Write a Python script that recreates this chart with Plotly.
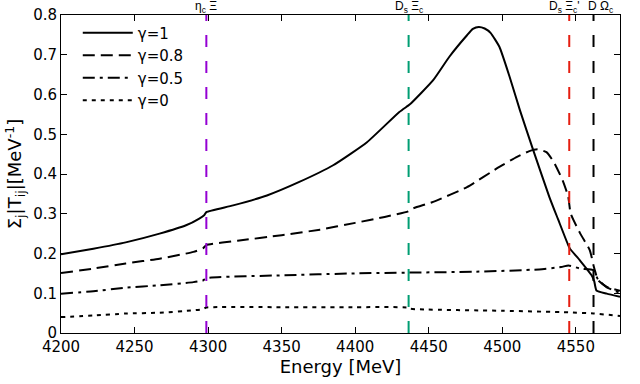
import plotly.graph_objects as go

# gamma = 1
e_g1 = [4200, 4222, 4244, 4267, 4285, 4294, 4297.5, 4298.8, 4317, 4340, 4362, 4385, 4408, 4430, 4436, 4438,
        4453, 4464, 4476, 4480, 4484, 4488, 4492, 4498, 4505, 4512, 4521, 4532, 4538, 4544.8, 4546, 4552.7,
        4560.7, 4562.5, 4564, 4571, 4580]
t_g1 = [0.198, 0.212, 0.228, 0.250, 0.271, 0.288, 0.297, 0.304, 0.321, 0.346, 0.380, 0.422, 0.480, 0.556, 0.572, 0.578,
        0.636, 0.695, 0.749, 0.765, 0.770, 0.766, 0.755, 0.720, 0.644, 0.560, 0.460, 0.342, 0.285, 0.221, 0.212, 0.183,
        0.145, 0.130, 0.107, 0.099, 0.091]

# gamma = 0.8
e_g08 = [4200, 4222, 4244, 4267, 4290, 4296.5, 4298.8, 4320, 4350, 4376, 4400, 4420, 4436, 4439, 4453, 4476,
         4498, 4510, 4518, 4524, 4530, 4535, 4541, 4544.8, 4546.5, 4553, 4559.5, 4562, 4563.5, 4565, 4571, 4580]
t_g08 = [0.151, 0.162, 0.175, 0.187, 0.204, 0.213, 0.221, 0.232, 0.246, 0.260, 0.277, 0.292, 0.306, 0.313, 0.330, 0.367,
         0.418, 0.443, 0.457, 0.462, 0.455, 0.430, 0.384, 0.343, 0.300, 0.250, 0.208, 0.170, 0.150, 0.133, 0.116, 0.106]

# gamma = 0.5
e_g05 = [4200, 4222, 4244, 4267, 4290, 4296.5, 4298.8, 4350, 4400, 4436, 4480, 4525, 4540, 4545, 4553, 4562,
         4565, 4571, 4580]
t_g05 = [0.099, 0.105, 0.114, 0.120, 0.128, 0.132, 0.138, 0.145, 0.150, 0.152, 0.154, 0.160, 0.166, 0.170, 0.162, 0.158,
         0.135, 0.115, 0.101]

# gamma = 0
e_g0 = [4200, 4222, 4244, 4267, 4290, 4296.5, 4298.8, 4350, 4400, 4436, 4437.5, 4500, 4545, 4562, 4580]
t_g0 = [0.040, 0.044, 0.049, 0.051, 0.057, 0.060, 0.064, 0.065, 0.065, 0.064, 0.061, 0.056, 0.052, 0.049, 0.043]

# thresholds
thr_e = [4298.8, 4436.3, 4545.5, 4562.0]
thr_lbl = ["η<sub>c</sub> Ξ", "D<sub>s</sub> Ξ<sub>c</sub>", "D<sub>s</sub> Ξ<sub>c</sub>'", "D Ω<sub>c</sub>"]
thr_col = ["#9400d3", "#009e73", "#e51e10", "#000000"]
thr_shift = [0, 0, -5, 7]

series = [
    ("γ=1", e_g1, t_g1, "solid"),
    ("γ=0.8", e_g08, t_g08, "12px,6px"),
    ("γ=0.5", e_g05, t_g05, "12px,5px,3px,5px"),
    ("γ=0", e_g0, t_g0, "4px,5px"),
]

fig = go.Figure()
for name, x, y, dash in series:
    fig.add_trace(go.Scatter(x=x, y=y, mode="lines", name=name,
                             line=dict(color="black", width=2, dash=dash, shape="spline", smoothing=0.5)))

for e, lbl, col, sh in zip(thr_e, thr_lbl, thr_col, thr_shift):
    fig.add_shape(type="line", x0=e, x1=e, y0=0, y1=1, yref="paper",
                  line=dict(color=col, width=2, dash="12px,14px"))
    fig.add_annotation(x=e, y=1, yref="paper", text=lbl, showarrow=False,
                       yanchor="middle", xshift=sh, yshift=8, borderpad=0,
                       font=dict(family="Liberation Sans", size=12, color="black"))

fig.update_layout(
    width=640, height=384,
    margin=dict(l=61, r=20, t=15, b=51),
    plot_bgcolor="white", paper_bgcolor="white",
    font=dict(family="DejaVu Sans", size=15, color="black"),
    legend=dict(x=0.03, y=0.995, xanchor="left", yanchor="top", bgcolor="rgba(0,0,0,0)",
                font=dict(size=15), itemwidth=50, tracegroupgap=0),
    xaxis=dict(title=dict(text="Energy [MeV]", standoff=4), range=[4200, 4580], dtick=50,
               showgrid=False, zeroline=False, showline=True, linecolor="black", linewidth=1,
               mirror="ticks", ticks="inside", ticklen=6, tickcolor="black", automargin=False),
    yaxis=dict(title=dict(text="Σ<sub>j</sub>|T<sub>ij</sub>|[MeV<sup>-1</sup>]", standoff=6),
               range=[0, 0.8], showgrid=False, zeroline=False, showline=True, linecolor="black", linewidth=1,
               mirror="ticks", ticks="inside", ticklen=6, tickcolor="black", automargin=False,
               tickvals=[0, 0.1, 0.2, 0.3, 0.4, 0.5, 0.6, 0.7, 0.8],
               ticktext=["0", "0.1", "0.2", "0.3", "0.4", "0.5", "0.6", "0.7", "0.8"]),
)

# page body has a default margin; drop it so the figure sits at the top-left corner
fig.write_html("out.html", config={"displayModeBar": False},
               post_script="document.body.style.margin='0px';")
